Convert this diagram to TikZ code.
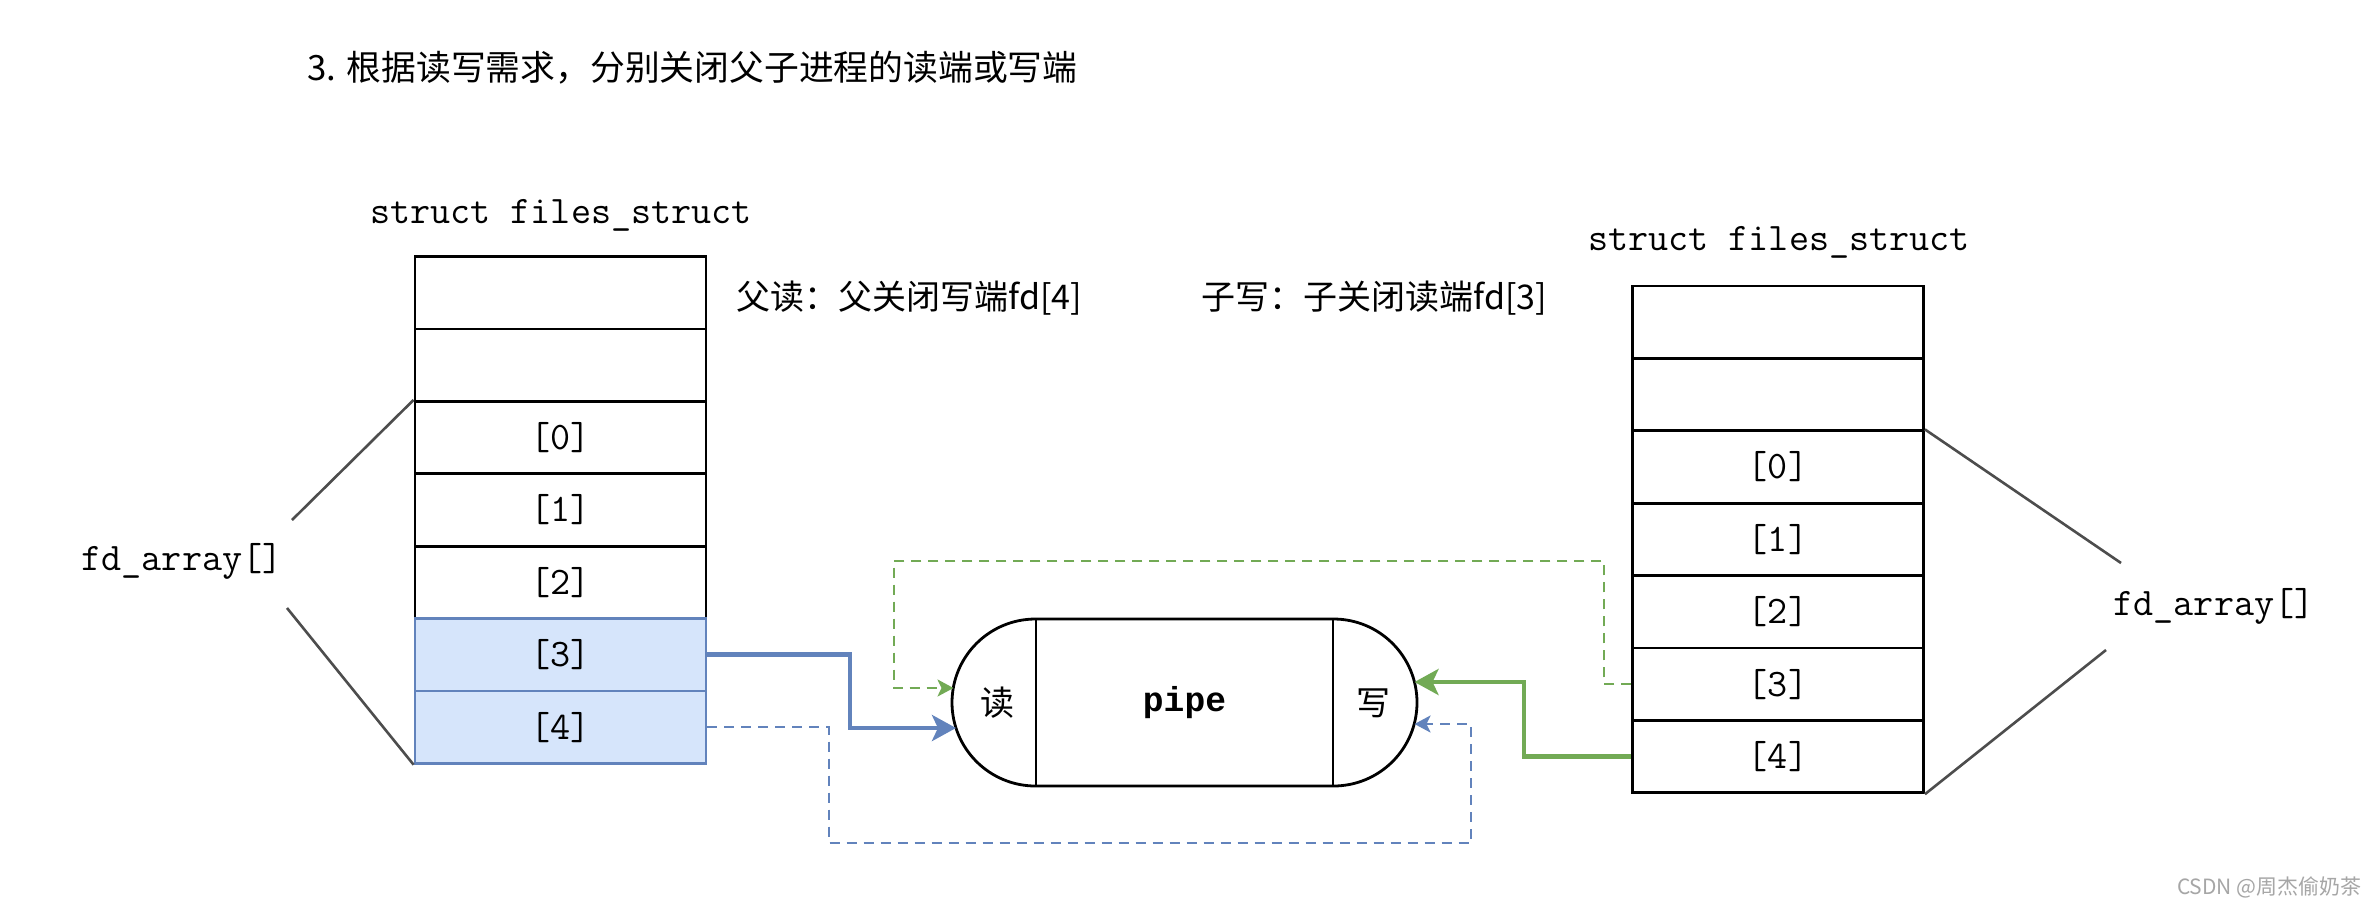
\documentclass[tikz,border=0pt]{standalone}
\usepackage{fontspec}
\newfontfamily\cjk{Noto Sans CJK SC}
\newfontfamily\pipefont{Liberation Mono}
\usetikzlibrary{arrows.meta,shapes.misc}
\definecolor{bstroke}{HTML}{6283BC}
\definecolor{bfill}{HTML}{D6E5FB}
\definecolor{gstroke}{HTML}{72AA55}
\definecolor{lgray}{HTML}{4D4D4D}
\newcommand\monofs{\fontsize{19.5pt}{20pt}\selectfont\ttfamily}
\newcommand\cjkfs{\fontsize{17pt}{18pt}\selectfont\cjk}
\begin{document}
\begin{tikzpicture}[x=0.5pt,y=-0.5pt,
  cell/.style={draw=black,line width=1.4pt,minimum width=145.5pt,minimum height=36.2pt,inner sep=0pt,font=\monofs},
  bcell/.style={cell,draw=bstroke,fill=bfill},
  txt/.style={inner sep=0pt},
  fdline/.style={draw=lgray,line width=1.3pt},
  bthick/.style={draw=bstroke,line width=2.4pt,-{Stealth[length=12pt,width=13pt,inset=3pt]}},
  gthick/.style={draw=gstroke,line width=2.4pt,-{Stealth[length=12pt,width=13pt,inset=3pt]}},
  bdash/.style={draw=bstroke,line width=1.2pt,dash pattern=on 5pt off 3.5pt,-{Stealth[length=8pt,width=8.5pt,inset=2pt]}},
  gdash/.style={draw=gstroke,line width=1.2pt,dash pattern=on 5pt off 3.5pt,-{Stealth[length=8pt,width=8.5pt,inset=2pt]}},
]
\useasboundingbox[fill=white] (0,0) rectangle (2376,906);

% title
\node[txt,anchor=west,font={\fontsize{17.4pt}{18pt}\selectfont\cjk}] (title) at (307,68) {3. 根据读写需求，分别关闭父子进程的读端或写端};

% labels
\node[txt,anchor=west,font=\cjkfs] (lab1) at (736,298) {父读：父关闭写端fd[4]};
\node[txt,anchor=west,font=\cjkfs] (lab2) at (1201,298) {子写：子关闭读端fd[3]};

% left table
\node[txt,anchor=base,font=\monofs] (tl) at (561,223) {struct files\_struct};
\node[cell] (Lb) at (560.5,292.7) {};
\node[cell] (La) at (560.5,365.1) {};
\node[cell] (L0) at (560.5,437.5) {[0]};
\node[cell] (L1) at (560.5,509.9) {[1]};
\node[cell] (L2) at (560.5,582.3) {[2]};
\node[bcell] (L3) at (560.5,654.7) {[3]};
\node[bcell] (L4) at (560.5,727.1) {[4]};

% right table
\node[txt,anchor=base,font=\monofs] (tr) at (1779,250) {struct files\_struct};
\node[cell] (Rb) at (1778,322.2) {};
\node[cell] (Ra) at (1778,394.6) {};
\node[cell] (R0) at (1778,467) {[0]};
\node[cell] (R1) at (1778,539.4) {[1]};
\node[cell] (R2) at (1778,611.8) {[2]};
\node[cell] (R3) at (1778,684.2) {[3]};
\node[cell] (R4) at (1778,756.6) {[4]};

% fd_array labels
\node[txt,anchor=base,font=\monofs] (fdl) at (182,570) {fd\_array[]};
\node[txt,anchor=base,font=\monofs] (fdr) at (2214,615) {fd\_array[]};
\coordinate (fdl1) at (292,520);
\coordinate (fdl2) at (287,608);
\coordinate (fdr1) at (2121,563);
\coordinate (fdr2) at (2106,650);
\draw[fdline] (fdl1) -- (L0.north west);
\draw[fdline] (fdl2) -- (L4.south west);
\draw[fdline] (R0.north east) -- (fdr1);
\draw[fdline] (R4.south east) -- (fdr2);

% pipe
\node[rounded rectangle,draw,line width=1.4pt,minimum width=232.5pt,minimum height=83.5pt,inner sep=0pt] (pipe) at (1184.5,702.5) {};
\draw[line width=1.2pt] (1036,619) -- (1036,786);
\draw[line width=1.2pt] (1333,619) -- (1333,786);
\node[txt,font=\cjkfs] (rd) at (997,703) {读};
\node[txt,font={\fontsize{17.3pt}{18pt}\selectfont\pipefont\bfseries}] (pp) at (1184.5,703) {pipe};
\node[txt,font=\cjkfs] (wr) at (1373,703) {写};

\coordinate (pinL1) at (956,728);
\coordinate (pinL2) at (953.5,688);
\coordinate (pinR1) at (1414.5,682);
\coordinate (pinR2) at (1414.5,724);

% connectors
\draw[bthick] (L3.east) -| (850,728) -- (pinL1);
\draw[bdash] (L4.east) -| (829,843) -| (1471,724) -- (pinR2);
\draw[gthick] (R4.west) -| (1524,682) -- (pinR1);
\draw[gdash] (R3.west) -| (1604,561) -| (894,688) -- (pinL2);

% watermark
\node[txt,anchor=east,text=gray!70,font={\fontsize{10.5pt}{11pt}\selectfont\cjk}] (wm) at (2362,887) {CSDN @周杰偷奶茶};
\end{tikzpicture}
\end{document}
